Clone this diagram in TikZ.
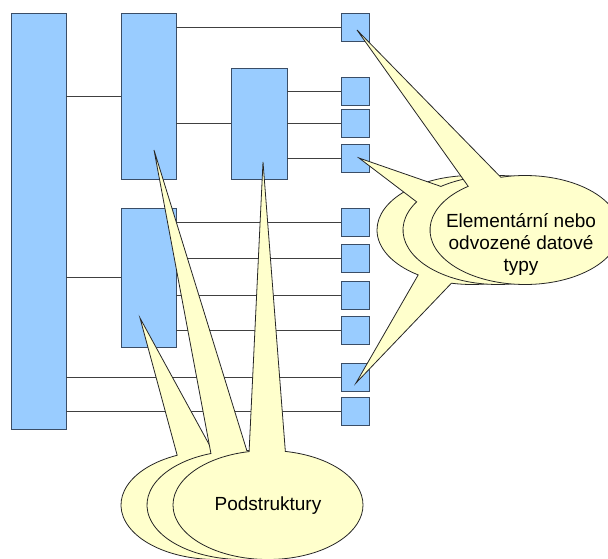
\documentclass[tikz,border=0pt]{standalone}
\usepackage{fontspec}
\setmainfont{Liberation Sans}
\usetikzlibrary{shapes.callouts}
\definecolor{boxblue}{HTML}{99CCFF}
\definecolor{boxedge}{HTML}{3A4D66}
\definecolor{linkgray}{HTML}{404040}
\definecolor{notefill}{HTML}{FFFFCC}
\begin{document}
\begin{tikzpicture}[x=1pt,y=-1pt,
  blk/.style={draw=boxedge, fill=boxblue, line width=0.9pt, inner sep=0pt},
  leaf/.style={blk, minimum width=28pt, minimum height=28pt},
  link/.style={draw=linkgray, line width=0.8pt},
  note/.style={ellipse callout, draw=black!85, fill=notefill, line width=0.8pt,
    inner sep=0pt, minimum width=190pt, minimum height=109pt,
    callout pointer arc=22},
  notetext/.style={font=\fontsize{19}{22}\selectfont, align=center, inner sep=0pt}]

\path[use as bounding box, clip] (0,0) rectangle (608,559);

% structure blocks
\node[blk, minimum width=55pt, minimum height=416pt] (root) at (38.5,221) {};
\node[blk, minimum width=55pt, minimum height=166pt] (subA) at (148.5,96) {};
\node[blk, minimum width=55pt, minimum height=139pt] (subB) at (148.5,277.5) {};
\node[blk, minimum width=56pt, minimum height=111pt] (subC) at (259,123.5) {};

% elementary items
\node[leaf] (e1) at (355,27) {};
\node[leaf] (e2) at (355,91) {};
\node[leaf] (e3) at (355,123.5) {};
\node[leaf] (e4) at (355,158.5) {};
\node[leaf] (e5) at (355,222) {};
\node[leaf] (e6) at (355,258) {};
\node[leaf] (e7) at (355,295.5) {};
\node[leaf] (e8) at (355,330) {};
\node[leaf] (e9) at (355,377.5) {};
\node[leaf] (e10) at (355,411) {};

% connections
\draw[link] (subA.west -| root.east) -- (subA.west);
\draw[link] (subB.west -| root.east) -- (subB.west);
\draw[link] (e1.west -| subA.east) -- (e1.west);
\draw[link] (subC.west -| subA.east) -- (subC.west);
\draw[link] (e2.west -| subC.east) -- (e2.west);
\draw[link] (e3.west -| subC.east) -- (e3.west);
\draw[link] (e4.west -| subC.east) -- (e4.west);
\draw[link] (e5.west -| subB.east) -- (e5.west);
\draw[link] (e6.west -| subB.east) -- (e6.west);
\draw[link] (e7.west -| subB.east) -- (e7.west);
\draw[link] (e8.west -| subB.east) -- (e8.west);
\draw[link] (e9.west -| root.east) -- (e9.west);
\draw[link] (e10.west -| root.east) -- (e10.west);

% callouts for substructures
\node[note, callout absolute pointer={(140,318)}] (p1) at (216,505) {};
\node[note, callout absolute pointer={(154,150)}] (p2) at (242,505) {};
\node[note, callout absolute pointer={(263,162)}] (p3) at (268,505) {};
\node[notetext] (ptext) at (268,506) {Podstruktury};

% callouts for elementary types
\node[note, callout absolute pointer={(356,383)}] (q1) at (472,230) {};
\node[note, callout absolute pointer={(359,158)}] (q2) at (498,230) {};
\node[note, callout absolute pointer={(357,30)}] (q3) at (525,230) {};
\node[notetext] (qtext) at (521,244) {Elementární nebo\\odvozené datové\\typy};
\end{tikzpicture}
\end{document}
